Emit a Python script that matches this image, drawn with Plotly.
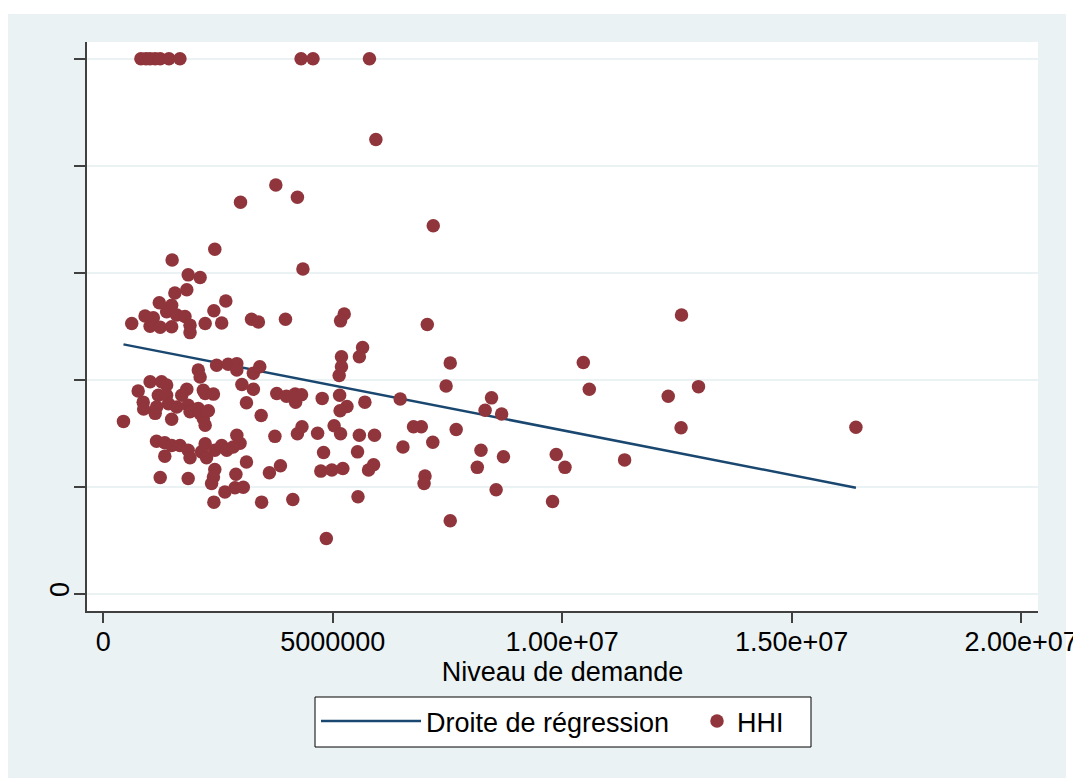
import plotly.graph_objects as go

# ---- data ----
demand = [
    820000, 930000, 1020000, 1130000, 1240000, 1430000, 1670000, 4310000, 4570000, 5800000,
    5940000, 3760000, 4230000, 2990000, 7190000, 2430000, 1500000, 4350000, 1850000, 2110000,
    1820000, 1560000, 2670000, 1220000, 1490000, 2410000, 910000, 1090000, 1380000, 1600000,
    1780000, 620000, 1020000, 1240000, 1490000, 1890000, 1890000, 2220000, 2580000, 3230000,
    3380000, 3970000, 5250000, 5170000, 7060000, 12600000, 5650000, 5580000, 5190000, 5190000,
    5140000, 7560000, 10460000, 2470000, 2720000, 2910000, 2910000, 3270000, 3410000, 2070000, 2110000,
    1020000, 1270000, 1380000, 760000, 1820000, 2180000, 3020000, 3270000, 3780000, 3990000,
    4180000, 4320000, 4190000, 4770000, 5150000, 5310000, 5160000, 5700000, 6470000, 7470000,
    10590000, 12970000, 12310000, 8460000, 8320000, 8680000, 870000, 880000, 1200000, 1380000,
    1420000, 1130000, 1160000, 1490000, 1600000, 1710000, 1850000, 1890000, 2070000, 2110000,
    2180000, 2220000, 2290000, 2220000, 2400000, 440000, 3120000, 3440000, 3740000, 1160000,
    1340000, 1490000, 1670000, 1850000, 1340000, 1890000, 2220000, 2140000, 2250000, 2430000,
    2580000, 2690000, 2910000, 2980000, 2830000, 3120000, 2430000, 2400000, 2360000, 1240000,
    1850000, 2890000, 2650000, 2870000, 3050000, 2410000, 3450000, 3620000, 3860000,
    4230000, 4330000, 4670000, 4800000, 4740000, 4980000, 5220000, 4860000, 5030000, 5170000,
    5580000, 5910000, 5540000, 5780000, 5890000, 5550000, 6530000, 6760000, 6930000, 7180000,
    7690000, 7010000, 6990000, 7560000, 8230000, 8150000, 8720000, 8560000, 9870000, 10060000,
    11360000, 9790000, 12590000, 16400000, 4130000,
]
hhi = [
    10000, 10000, 10000, 10000, 10000, 10000, 10000, 10000, 10000, 10000,
    8490, 7640, 7410, 7320, 6880, 6440, 6240, 6070, 5960, 5910,
    5680, 5620, 5470, 5440, 5390, 5290, 5190, 5160, 5270, 5210,
    5180, 5050, 5000, 4980, 4990, 5020, 4880, 5050, 5060, 5130,
    5080, 5130, 5230, 5100, 5030, 5210, 4600, 4430, 4430, 4240,
    4080, 4310, 4320, 4270, 4290, 4300, 4180, 4120, 4240, 4180, 4050,
    3960, 3960, 3900, 3790, 3820, 3800, 3910, 3820, 3740, 3690,
    3730, 3720, 3580, 3650, 3710, 3500, 3420, 3580, 3640, 3880,
    3820, 3870, 3690, 3660, 3430, 3360, 3580, 3450, 3710, 3710,
    3550, 3370, 3490, 3260, 3490, 3710, 3520, 3400, 3460, 3370,
    3270, 3150, 3420, 3740, 3730, 3220, 3570, 3330, 2940, 2850,
    2820, 2770, 2770, 2680, 2570, 2540, 2800, 2650, 2540, 2680,
    2770, 2680, 2960, 2810, 2740, 2460, 2320, 2180, 2060, 2170,
    2150, 2230, 1900, 1980, 1990, 1710, 1710, 2260, 2390,
    2990, 3120, 3000, 2640, 2290, 2310, 2340, 1030, 3140, 2990,
    2960, 2960, 2650, 2310, 2410, 1810, 2740, 3120, 3120, 2830,
    3070, 2200, 2060, 1360, 2680, 2360, 2560, 1940, 2600, 2360,
    2500, 1720, 3100, 3110, 1760,
]
assert len(demand) == len(hhi)

# regression line (fitted values read at the ends of the data range)
reg_x = [440000, 16400000]
reg_y = [4660, 1980]

x_tickvals = [0, 5000000, 10000000, 15000000, 20000000]
x_ticktext = ["0", "5000000", "1.00e+07", "1.50e+07", "2.00e+07"]
y_tickvals = [0, 2000, 4000, 6000, 8000, 10000]
y_ticktext = ["0", "", "", "", "", ""]

# ---- styling ----
FONT = "Liberation Sans, Arial, sans-serif"
REGION = "#EAF2F3"
NAVY = "#1A476F"
MAROON = "#90353B"
AXIS = "#404040"

# the page adds an 8px body margin, so the figure starts at (8, 8)
W, H = 1073, 770
L, R, T, B = 79, 43, 34, 167
pw, ph = W - L - R, H - T - B


def px2fx(px):
    return (px - L) / pw


def py2fy(py):
    return (H - B - py) / ph


fig = go.Figure()
fig.add_trace(go.Scatter(
    x=reg_x, y=reg_y, mode="lines", name="Droite de régression",
    line=dict(color=NAVY, width=2.5), legend="legend",
))
fig.add_trace(go.Scatter(
    x=demand, y=hhi, mode="markers", name="HHI",
    marker=dict(color=MAROON, size=13.5, line=dict(width=0)), legend="legend2",
))

shapes = [
    # white strip above the grey graph region
    dict(type="rect", xref="paper", yref="paper", layer="below",
         x0=px2fx(0), x1=px2fx(W), y0=py2fy(6), y1=py2fy(0),
         fillcolor="white", line=dict(width=0)),
    # white strip right of the grey graph region
    dict(type="rect", xref="paper", yref="paper", layer="below",
         x0=px2fx(1058), x1=px2fx(W), y0=py2fy(H), y1=py2fy(0),
         fillcolor="white", line=dict(width=0)),
    # legend frame
    dict(type="rect", xref="paper", yref="paper", layer="below",
         x0=px2fx(307), x1=px2fx(803), y0=py2fy(739), y1=py2fy(689),
         fillcolor="white", line=dict(color="black", width=1)),
]

legend_common = dict(
    orientation="h", yanchor="top", y=py2fy(689), xanchor="left",
    bgcolor="rgba(0,0,0,0)", borderwidth=0,
    font=dict(family=FONT, size=27, color="black"),
)

fig.update_layout(
    width=W, height=H,
    margin=dict(l=L, r=R, t=T, b=B, pad=0, autoexpand=False),
    paper_bgcolor=REGION,
    plot_bgcolor="white",
    font=dict(family=FONT, size=27, color="black"),
    shapes=shapes,
    showlegend=True,
    legend=dict(x=px2fx(308), itemwidth=100, **legend_common),
    legend2=dict(x=px2fx(689), itemwidth=30, **legend_common),
    xaxis=dict(
        range=[-355000, 20368000],
        automargin=False,
        tickmode="array", tickvals=x_tickvals, ticktext=x_ticktext,
        ticklabeloverflow="allow",
        showgrid=False, zeroline=False,
        showline=True, linecolor=AXIS, linewidth=1.5,
        ticks="outside", ticklen=10, tickwidth=1.5, tickcolor=AXIS,
        ticklabelstandoff=-4,
        tickfont=dict(family=FONT, size=27, color="black"),
        title=dict(text="Niveau de demande", standoff=0,
                   font=dict(family=FONT, size=27, color="black")),
    ),
    yaxis=dict(
        range=[-326, 10315],
        automargin=False,
        tickmode="array", tickvals=y_tickvals, ticktext=y_ticktext,
        tickangle=-90,
        showgrid=True, gridcolor=REGION, gridwidth=2,
        zeroline=False,
        showline=True, linecolor=AXIS, linewidth=1.5,
        ticks="outside", ticklen=11, tickwidth=1.5, tickcolor=AXIS,
        ticklabelstandoff=-6,
        tickfont=dict(family=FONT, size=27, color="black"),
    ),
)

fig.write_html("out.html")
